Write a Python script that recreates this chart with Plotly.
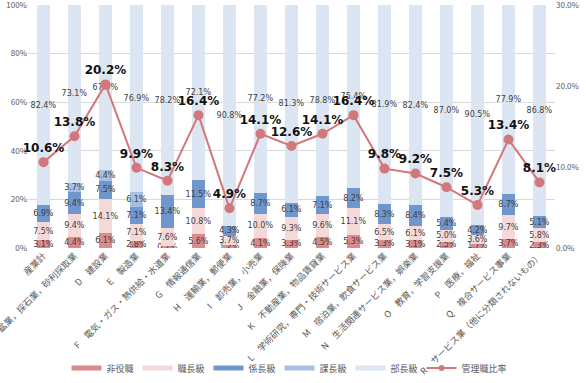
import plotly.graph_objects as go

categories = ["産業計", "C　鉱業，採石業，砂利採取業", "D　建設業", "E　製造業",
              "F　電気・ガス・熱供給・水道業", "G　情報通信業", "H　運輸業，郵便業",
              "I　卸売業，小売業", "J　金融業，保険業", "K　不動産業，物品賃貸業",
              "L　学術研究，専門・技術サービス業", "M　宿泊業，飲食サービス業",
              "N　生活関連サービス業，娯楽業", "O　教育，学習支援業", "P　医療，福祉",
              "Q　複合サービス事業", "R　サービス業（他に分類されないもの）"]

hiyakushoku = [3.1, 4.4, 6.1, 2.8, 0.7, 5.6, 1.2, 4.1, 3.3, 4.5, 5.3, 3.3, 3.1, 2.5, 1.7, 3.7, 2.3]
shokucho = [7.5, 9.4, 14.1, 7.1, 7.6, 10.8, 3.7, 10.0, 9.3, 9.6, 11.1, 6.5, 6.1, 5.0, 3.6, 9.7, 5.8]
kakaricho = [6.9, 9.4, 7.5, 7.1, 13.4, 11.5, 4.3, 8.7, 6.1, 7.1, 8.2, 8.3, 8.4, 5.4, 4.2, 8.7, 5.1]
kacho = [None, 3.7, 4.4, 6.1, None, None, None, None, None, None, None, None, None, None, None, None, None]
bucho = [82.4, 73.1, 67.9, 76.9, 78.2, 72.1, 90.8, 77.2, 81.3, 78.8, 75.4, 81.9, 82.4, 87.0, 90.5, 77.9, 86.8]
kanri_ratio = [10.6, 13.8, 20.2, 9.9, 8.3, 16.4, 4.9, 14.1, 12.6, 14.1, 16.4, 9.8, 9.2, 7.5, 5.3, 13.4, 8.1]

left_ticks = [0, 20, 40, 60, 80, 100]
left_ticktext = ["0%", "20%", "40%", "60%", "80%", "100%"]
right_ticks = [0, 10, 20, 30]
right_ticktext = ["0.0%", "10.0%", "20.0%", "30.0%"]

series = [
    ("非役職", hiyakushoku, "#dc8a8c"),
    ("職長級", shokucho, "#f5d9d9"),
    ("係長級", kakaricho, "#6f96cd"),
    ("課長級", kacho, "#a7c0e2"),
    ("部長級", bucho, "#dce6f2"),
]
LINE_COLOR = "#d4777a"

FONT = "Noto Sans CJK JP"
fig = go.Figure()
for name, vals, col in series:
    txt = ["" if v is None else f"{v:.1f}%" for v in vals]
    fig.add_trace(go.Bar(
        x=categories, y=[0 if v is None else v for v in vals], name=name,
        marker=dict(color=col, line=dict(width=0)),
        text=txt, textposition="inside", insidetextanchor="middle",
        textfont=dict(size=8, color="#404040", family="DejaVu Sans"),
        constraintext="none", textangle=0, showlegend=False,
    ))

fig.add_trace(go.Scatter(
    x=categories, y=kanri_ratio, name="管理職比率", yaxis="y2",
    mode="lines+markers+text",
    line=dict(color=LINE_COLOR, width=2),
    marker=dict(color=LINE_COLOR, size=10),
    text=[f"{v:.1f}%" for v in kanri_ratio], textposition="top center",
    textfont=dict(size=12, color="#111111", family="DejaVu Sans", weight="bold"),
    cliponaxis=False, showlegend=False,
))

# legend entries (line swatches like the original)
for name, vals, col in series:
    fig.add_trace(go.Scatter(x=[None], y=[None], name=name, mode="lines",
                             line=dict(color=col, width=5)))
fig.add_trace(go.Scatter(x=[None], y=[None], name="管理職比率", mode="lines+markers",
                         line=dict(color=LINE_COLOR, width=2),
                         marker=dict(color=LINE_COLOR, size=6), legendwidth=50))

fig.update_layout(
    width=586, height=383,
    margin=dict(l=28, r=31, t=5, b=135, autoexpand=False),
    barmode="stack", bargap=0.61,
    plot_bgcolor="white", paper_bgcolor="white",
    font=dict(family=FONT, color="#595959", size=9),
    uniformtext=dict(mode="show", minsize=8),
    showlegend=True,
    legend=dict(orientation="h", x=0.5, xanchor="center", y=-0.494, yanchor="middle",
                font=dict(size=9, color="#595959"), traceorder="normal",
                bgcolor="rgba(0,0,0,0)", itemwidth=30, entrywidth=26,
                entrywidthmode="pixels"),
    xaxis=dict(tickangle=-45, tickfont=dict(size=9, color="#595959"),
               range=[-0.5, len(categories) - 0.5], autorange=False,
               showgrid=False, showline=False, ticks="", automargin=False),
    yaxis=dict(range=[0, 100], tickvals=left_ticks, ticktext=left_ticktext,
               showgrid=True, gridcolor="#d9d9d9", gridwidth=1, zeroline=False,
               tickfont=dict(size=8, color="#595959"), automargin=False,
               ticklabeloverflow="allow"),
    yaxis2=dict(range=[0, 30], tickvals=right_ticks, ticktext=right_ticktext,
                overlaying="y", side="right", showgrid=False, zeroline=False,
                tickfont=dict(size=8, color="#595959"), automargin=False,
                ticklabeloverflow="allow"),
)

fig.write_html("out.html", config={"displayModeBar": False},
               post_script="document.body.style.margin='0px';")
